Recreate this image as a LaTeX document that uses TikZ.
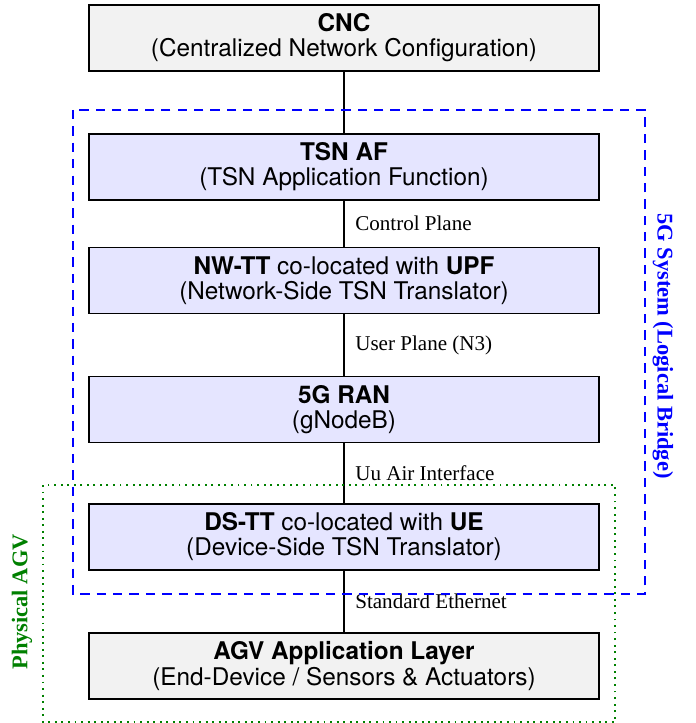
\documentclass[tikz,border=0pt]{standalone}
\usepackage{fontspec}
\setmainfont{Liberation Serif}
\setsansfont{TeX Gyre Heros}
\begin{document}
\begin{tikzpicture}[x=0.4274pt,y=-0.4274pt,
  box/.style={draw=black, thick, minimum width=218pt, minimum height=28.2pt,
    align=center, font=\sffamily\fontsize{10.4}{10.7}\selectfont, inner sep=0pt},
  graybox/.style={box, fill=black!5},
  bluebox/.style={box, fill=blue!10},
  lbl/.style={right, font=\small, xshift=1.2pt},
  conn/.style={draw=black, semithick},
  sysframe/.style={draw=blue, thick, dash pattern=on 4pt off 3pt},
  agvframe/.style={draw=green!50!black, thick, dotted},
]
\useasboundingbox (0,0) rectangle (695,723);

\node[graybox] (cnc) at (344,38) {\textbf{CNC}\\(Centralized Network Configuration)};
\node[bluebox] (tsnaf) at (344,167) {\textbf{TSN AF}\\(TSN Application Function)};
\node[bluebox] (nwtt) at (344,280.5) {\textbf{NW-TT} co-located with \textbf{UPF}\\(Network-Side TSN Translator)};
\node[bluebox] (ran) at (344,409.5) {\textbf{5G RAN}\\(gNodeB)};
\node[bluebox] (dstt) at (344,537) {\textbf{DS-TT} co-located with \textbf{UE}\\(Device-Side TSN Translator)};
\node[graybox] (agv) at (344,666) {\textbf{AGV Application Layer}\\(End-Device / Sensors \& Actuators)};

\draw[conn] (cnc) -- (tsnaf);
\draw[conn] (tsnaf) -- node[lbl] {Control Plane} (nwtt);
\draw[conn] (nwtt) -- node[lbl] {User Plane (N3)} (ran);
\draw[conn] (ran) -- node[lbl] {Uu Air Interface} (dstt);
\draw[conn] (dstt) -- node[lbl] {Standard Ethernet} (agv);

\draw[sysframe] (73,110) rectangle (645,594);
\draw[agvframe] (43,485) rectangle (615,722);

\node[rotate=-90, text=blue, font=\fontsize{9.6}{11}\selectfont\bfseries] (syslbl) at (663,346) {5G System (Logical Bridge)};
\node[rotate=90, text=green!50!black, font=\fontsize{9.6}{11}\selectfont\bfseries] (agvlbl) at (22,602) {Physical AGV};
\end{tikzpicture}
\end{document}
